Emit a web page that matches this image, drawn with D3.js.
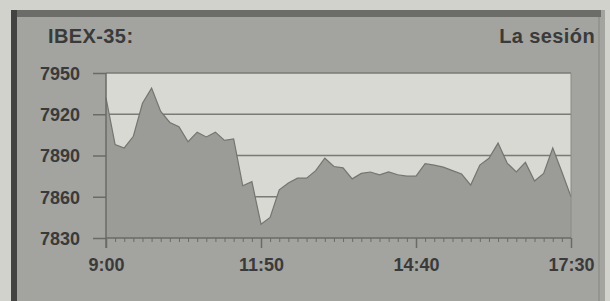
<!DOCTYPE html>
<html>
<head>
<meta charset="utf-8">
<script src="https://cdn.jsdelivr.net/npm/d3@7/dist/d3.min.js"></script>
<style>
html,body{margin:0;padding:0;background:#d2d2cc;}
svg{display:block;}
text{font-family:"Liberation Sans",Arial,Helvetica,sans-serif;font-weight:bold;fill:#3a3a3a;}
</style>
</head>
<body>
<svg id="chart" width="610" height="301"></svg>
<script>
// Data: IBEX-35 intraday, every 10 minutes from 9:00 to 17:30
const startMinutes = 9 * 60;
const stepMinutes = 10;
const values = [
  7932, 7898, 7895.5, 7904, 7928, 7939, 7922, 7914, 7911, 7900,
  7907, 7903.5, 7907, 7901, 7902, 7868, 7871, 7840, 7845, 7865,
  7870, 7873.5, 7873.5, 7879, 7888, 7882, 7881, 7873, 7877, 7878,
  7876, 7878, 7876, 7875, 7875, 7884, 7883, 7881.5, 7879, 7876.5,
  7868.5, 7883, 7888, 7899, 7884.5, 7878, 7885, 7871.5, 7877, 7895.5,
  7878, 7860
];
const yTicks = [7830, 7860, 7890, 7920, 7950];
const xTickLabels = ["9:00", "11:50", "14:40", "17:30"];
const title = "IBEX-35:";
const subtitle = "La sesión";

const toMin = s => { const [h, m] = s.split(":").map(Number); return h * 60 + m; };
const data = values.map((v, i) => ({ t: startMinutes + i * stepMinutes, v }));

const svg = d3.select("#chart");
const W = 610, H = 301;

// panel frame
svg.append("rect").attr("x", 0).attr("y", 0).attr("width", W).attr("height", H).attr("fill", "#d2d2cc");
svg.append("rect").attr("x", 11).attr("y", 10).attr("width", 594).attr("height", H - 10).attr("fill", "#a3a3a0");
svg.append("rect").attr("x", 11).attr("y", 10).attr("width", 590).attr("height", 7).attr("fill", "#6c6c69");
svg.append("rect").attr("x", 11).attr("y", 10).attr("width", 6).attr("height", H - 10).attr("fill", "#434342");
svg.append("rect").attr("x", 598).attr("y", 17).attr("width", 2).attr("height", H - 17).attr("fill", "#949490");

const plot = { left: 106, right: 571, top: 73, bottom: 238 };

const x = d3.scaleLinear()
  .domain([startMinutes, startMinutes + (values.length - 1) * stepMinutes])
  .range([plot.left, plot.right]);
const y = d3.scaleLinear().domain([7830, 7950]).range([plot.bottom, plot.top]);

// plot background
svg.append("rect")
  .attr("x", plot.left).attr("y", plot.top)
  .attr("width", plot.right - plot.left).attr("height", plot.bottom - plot.top)
  .attr("fill", "#d9d9d3");

// gridlines
svg.append("g").selectAll("line").data(yTicks.filter(d => d > 7830)).join("line")
  .attr("x1", plot.left).attr("x2", plot.right)
  .attr("y1", d => y(d)).attr("y2", d => y(d))
  .attr("stroke", "#7a7a76").attr("stroke-width", 1.5);

// area
const area = d3.area().x(d => x(d.t)).y0(y(7830)).y1(d => y(d.v));
svg.append("path").datum(data).attr("d", area).attr("fill", "#9b9b97");
const line = d3.line().x(d => x(d.t)).y(d => y(d.v));
svg.append("path").datum(data).attr("d", line)
  .attr("fill", "none").attr("stroke", "#747470").attr("stroke-width", 1.2);

// plot right edge
svg.append("line").attr("x1", plot.right).attr("x2", plot.right)
  .attr("y1", plot.top).attr("y2", plot.bottom)
  .attr("stroke", "#8a8a86").attr("stroke-width", 1);

// y axis (ticks extend left)
const yAxis = d3.axisLeft(y).tickValues(yTicks).tickSize(13).tickPadding(13)
  .tickFormat(d3.format("d"));
const gy = svg.append("g").attr("transform", `translate(${plot.left},0)`).call(yAxis);
gy.select(".domain").remove();
gy.selectAll(".tick line").attr("stroke", "#6a6a66").attr("stroke-width", 1.5);
gy.selectAll(".tick text").style("font-size", "18px").attr("fill", "#3a3a3a").attr("dy", "0.36em");

// left axis vertical line
svg.append("line").attr("x1", plot.left).attr("x2", plot.left)
  .attr("y1", plot.top).attr("y2", plot.bottom + 10)
  .attr("stroke", "#6a6a66").attr("stroke-width", 1.5);

// x axis baseline
svg.append("line").attr("x1", plot.left).attr("x2", plot.right)
  .attr("y1", plot.bottom).attr("y2", plot.bottom)
  .attr("stroke", "#6a6a66").attr("stroke-width", 1.5);

// minor ticks every 10 min
const minorAxis = d3.axisBottom(x).tickValues(data.map(d => d.t)).tickSize(4).tickFormat("");
const gm = svg.append("g").attr("transform", `translate(0,${plot.bottom})`).call(minorAxis);
gm.select(".domain").remove();
gm.selectAll(".tick line").attr("stroke", "#6a6a66").attr("stroke-width", 1);

// major ticks with labels
const majorAxis = d3.axisBottom(x).tickValues(xTickLabels.map(toMin)).tickSize(10).tickPadding(10)
  .tickFormat((d, i) => xTickLabels[i]);
const gx = svg.append("g").attr("transform", `translate(0,${plot.bottom})`).call(majorAxis);
gx.select(".domain").remove();
gx.selectAll(".tick line").attr("stroke", "#6a6a66").attr("stroke-width", 1.5);
gx.selectAll(".tick text").style("font-size", "18px").attr("fill", "#3a3a3a");

// titles
svg.append("text").attr("x", 48).attr("y", 43).style("font-size", "20px")
  .style("letter-spacing", "0.4px").text(title);
svg.append("text").attr("x", 595).attr("y", 43).attr("text-anchor", "end")
  .style("font-size", "20px").style("letter-spacing", "0.4px").text(subtitle);
</script>
</body>
</html>
